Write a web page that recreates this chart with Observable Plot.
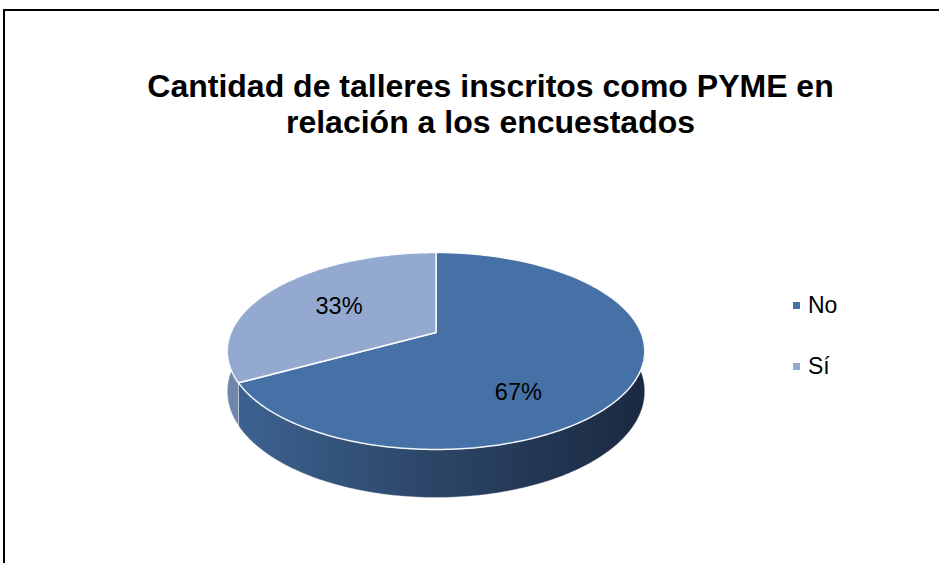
<!DOCTYPE html>
<html><head><meta charset="utf-8">
<script src="https://cdn.jsdelivr.net/npm/d3@7"></script>
<script src="https://cdn.jsdelivr.net/npm/@observablehq/plot@0.6"></script>
<style>
body{margin:0;background:#fff;font-family:"Liberation Sans",Arial,sans-serif;}
#wrap{position:relative;width:939px;height:563px;overflow:hidden;background:#fff;}
#frame{position:absolute;left:3px;top:9px;width:1000px;height:600px;border-top:2px solid #000;border-left:2px solid #000;}
#title{position:absolute;left:0;width:981px;top:68px;text-align:center;font-weight:bold;font-size:32px;line-height:36px;color:#000;white-space:nowrap;}
#chart{position:absolute;left:0;top:0;}
.leg{position:absolute;left:793px;font-size:23px;line-height:23px;color:#000;}
.leg i{position:absolute;left:0;top:8px;width:7px;height:7px;}
.leg span{position:absolute;left:15px;top:0;white-space:nowrap;}
</style></head>
<body>
<div id="wrap">
  <div id="frame"></div>
  <div id="chart"></div>
  <div id="title">Cantidad de talleres inscritos como PYME en<br>relación a los encuestados</div>
  <div id="legend"></div>
</div>
<script>
const categories = ["No", "Sí"];
const values = [67, 33];
const labels = ["67%", "33%"];
const topColors = ["#4571a6", "#93a9cf"];
const sideColors = ["url(#sideNo)", "#6f87ab"];

// perspective disc projection
const A = 205, B = 95, K = 0.188, D = 39;
function proj(phiDeg, r = 1, drop = 0) {
  const p = phiDeg * Math.PI / 180;
  const u = r * Math.sin(p), v = r * Math.cos(p), w = 1 + K * v;
  return [A * u / w, (B * v - drop) / w];
}
const total = d3.sum(values);
let acc = 0;
const slices = categories.map((c, i) => {
  const a0 = acc / total * 360; acc += values[i];
  const a1 = acc / total * 360;
  return {c, i, a0, a1};
});
function arcPts(a0, a1, drop) {
  const n = Math.max(2, Math.ceil(Math.abs(a1 - a0)));
  return d3.range(n + 1).map(j => proj(a0 + (a1 - a0) * j / n, 1, drop));
}
const topData = [], sideData = [], labelData = [];
slices.forEach(s => {
  const pts = [[0, 0], ...arcPts(s.a0, s.a1, 0), [0, 0]];
  pts.forEach(([x, y]) => topData.push({key: s.c, x, y, color: topColors[s.i]}));
  const b0 = Math.max(s.a0, 90), b1 = Math.min(s.a1, 270);
  if (b1 > b0) {
    const wall = [...arcPts(b0, b1, 0), ...arcPts(b1, b0, D)];
    wall.push(wall[0]);
    wall.forEach(([x, y]) => sideData.push({key: s.c, x, y, color: sideColors[s.i]}));
  }
  const c = proj((s.a0 + s.a1) / 2, 0.58, 0);
  labelData.push({x: c[0], y: c[1], text: labels[s.i], key: s.c});
});

const chart = Plot.plot({
  width: 939, height: 563,
  marginTop: 0, marginRight: 0, marginBottom: 0, marginLeft: 0,
  x: {domain: [-209, 209], range: [226.5, 644.5], axis: null},
  y: {domain: [-165, 80], range: [497, 252], axis: null},
  color: {type: "identity"},
  style: {background: "transparent", fontFamily: "Liberation Sans, Arial, sans-serif"},
  marks: [
    Plot.line(sideData, {x: "x", y: "y", z: "key", fill: "color", stroke: "#ffffff", strokeOpacity: 0.35, strokeWidth: 1, curve: "linear"}),
    Plot.line(topData, {x: "x", y: "y", z: "key", fill: "color", stroke: "#ffffff", strokeWidth: 1.5, strokeOpacity: 0.9, curve: "linear"}),
    Plot.text(labelData.filter(d => d.key === "Sí"), {x: "x", y: "y", text: "text", fontSize: 23.5, fill: "#000", dy: 1}),
    Plot.text(labelData.filter(d => d.key === "No"), {x: "x", y: "y", text: "text", fontSize: 23.5, fill: "#000", dx: -26, dy: 30})
  ]
});
const svg = d3.select(chart.tagName.toLowerCase() === "svg" ? chart : chart.querySelector("svg"));
const g = svg.insert("defs", ":first-child").append("linearGradient")
  .attr("id", "sideNo").attr("x1", 0).attr("x2", 1).attr("y1", 0).attr("y2", 0);
g.append("stop").attr("offset", 0).attr("stop-color", "#3d6290");
g.append("stop").attr("offset", 0.5).attr("stop-color", "#2b4465");
g.append("stop").attr("offset", 1).attr("stop-color", "#1a2940");
document.getElementById("chart").appendChild(chart);

const legend = document.getElementById("legend");
categories.forEach((c, i) => {
  const d = document.createElement("div");
  d.className = "leg";
  d.style.top = (294 + i * 61) + "px";
  d.innerHTML = `<i style="background:${topColors[i]}"></i><span>${c}</span>`;
  legend.appendChild(d);
});
</script>
</body></html>
